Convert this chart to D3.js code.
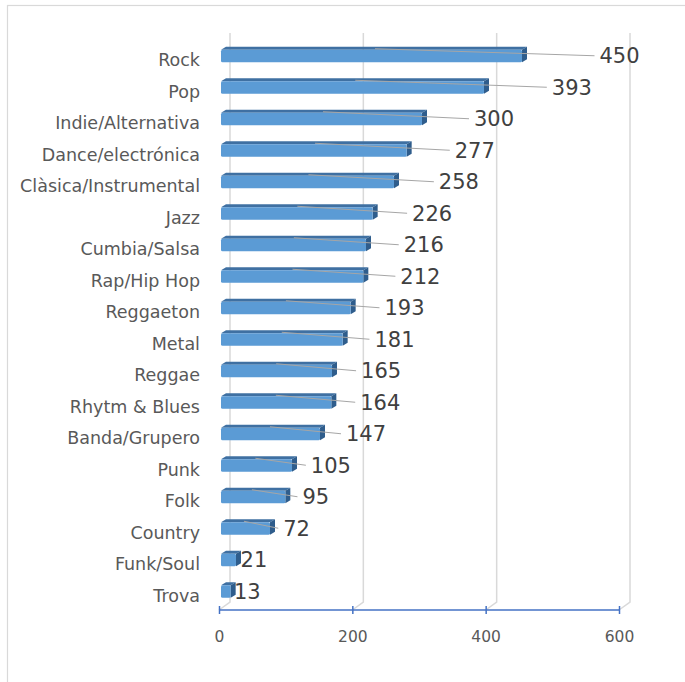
<!DOCTYPE html>
<html>
<head>
<meta charset="utf-8">
<script src="https://cdn.jsdelivr.net/npm/d3@7"></script>
<style>
  html, body { margin: 0; padding: 0; background: #fff; }
  svg { display: block; }
</style>
</head>
<body>
<svg id="chart" width="685" height="682"></svg>
<script>
// Genres and how many people chose each one
const genres = [
  "Rock", "Pop", "Indie/Alternativa", "Dance/electrónica", "Clàsica/Instrumental",
  "Jazz", "Cumbia/Salsa", "Rap/Hip Hop", "Reggaeton", "Metal", "Reggae",
  "Rhytm & Blues", "Banda/Grupero", "Punk", "Folk", "Country", "Funk/Soul", "Trova"
];
const votes = [450, 393, 300, 277, 258, 226, 216, 212, 193, 181, 165, 164, 147, 105, 95, 72, 21, 13];
const axisTicks = [0, 200, 400, 600];

const svg = d3.select("#chart");
const font = "'DejaVu Sans', sans-serif";

// outer chart frame
svg.append("rect")
  .attr("x", 7.5).attr("y", 5.5)
  .attr("width", 720).attr("height", 720)
  .attr("fill", "#fff").attr("stroke", "#d9d9d9").attr("stroke-width", 1.2);

const x = d3.scaleLinear().domain([0, 600]).range([219, 619]);
const y = d3.scaleBand().domain(genres).range([43, 610]).padding(0);

// depth of the 3-D back wall
const wallDx = 11, wallDy = -8;
const wallTop = 33, floorY = 610;

// back-wall gridlines with their floor segments
const grid = svg.append("g");
axisTicks.forEach(t => {
  grid.append("path")
    .attr("d", `M${x(t) + wallDx},${wallTop} L${x(t) + wallDx},${floorY + wallDy} L${x(t)},${floorY}`)
    .attr("fill", "none").attr("stroke", "#d9d9d9").attr("stroke-width", 1.5);
});

// value axis
const axisG = svg.append("g").attr("transform", `translate(0,${floorY})`)
  .call(d3.axisBottom(x).tickValues(axisTicks).tickSize(0).tickPadding(0));
axisG.select(".domain").attr("stroke", "#4472c4").attr("stroke-width", 1.5)
  .attr("d", `M${x(0)},0H${x(600)}`);
axisG.selectAll(".tick line").remove();
axisG.selectAll(".tick").append("line")
  .attr("y1", -4).attr("y2", 4)
  .attr("stroke", "#4472c4").attr("stroke-width", 1.5);
axisG.selectAll(".tick text")
  .attr("y", 32).attr("dy", 0)
  .attr("font-family", font).attr("font-size", 15.5).attr("fill", "#595959");

// category labels
svg.append("g").selectAll("text").data(genres).join("text")
  .attr("x", 200)
  .attr("y", d => y(d) + y.bandwidth() / 2 + 7.5)
  .attr("text-anchor", "end")
  .attr("font-family", font).attr("font-size", 17.5).attr("fill", "#595959")
  .text(d => d);

// 3-D bars: front face, top face, right end face
const bx = 3, depthX = 5, depthY = -3;
const rows = genres.map((g, i) => ({ g, v: votes[i] }));
const bars = svg.append("g").selectAll("g").data(rows).join("g");

bars.each(function (d) {
  const sc = y(d.g) + y.bandwidth() / 2;
  const top = sc - 9, bottom = sc + 3.5;
  const xl = x(0) + 2, xr = x(d.v) + bx;
  const gSel = d3.select(this);
  gSel.append("path")
    .attr("d", `M${xl},${top} L${xr},${top} L${xr + depthX},${top + depthY} L${xl + depthX},${top + depthY} Z`)
    .attr("fill", "#3f70a2");
  gSel.append("path")
    .attr("d", `M${xr},${top} L${xr + depthX},${top + depthY} L${xr + depthX},${bottom + depthY} L${xr},${bottom} Z`)
    .attr("fill", "#2f5d8c");
  gSel.append("rect")
    .attr("x", xl).attr("y", top)
    .attr("width", xr - xl).attr("height", bottom - top)
    .attr("rx", 1.5)
    .attr("fill", "#5b9bd5");
});

// data labels with leader lines
const labels = svg.append("g");
rows.forEach(d => {
  const sc = y(d.g) + y.bandwidth() / 2;
  const len = x(d.v) - x(0);
  const lx = x(d.v) + 4 + 0.255 * len;
  const ly = sc - 3;
  if (len > 30) {
    labels.append("line")
      .attr("x1", x(0) + 0.52 * len).attr("y1", sc - 10)
      .attr("x2", lx - 5).attr("y2", ly)
      .attr("stroke", "#a6a6a6").attr("stroke-width", 1);
  }
  labels.append("text")
    .attr("x", lx).attr("y", ly + 7.6)
    .attr("font-family", font).attr("font-size", 21).attr("fill", "#404040")
    .text(d.v);
});
</script>
</body>
</html>
